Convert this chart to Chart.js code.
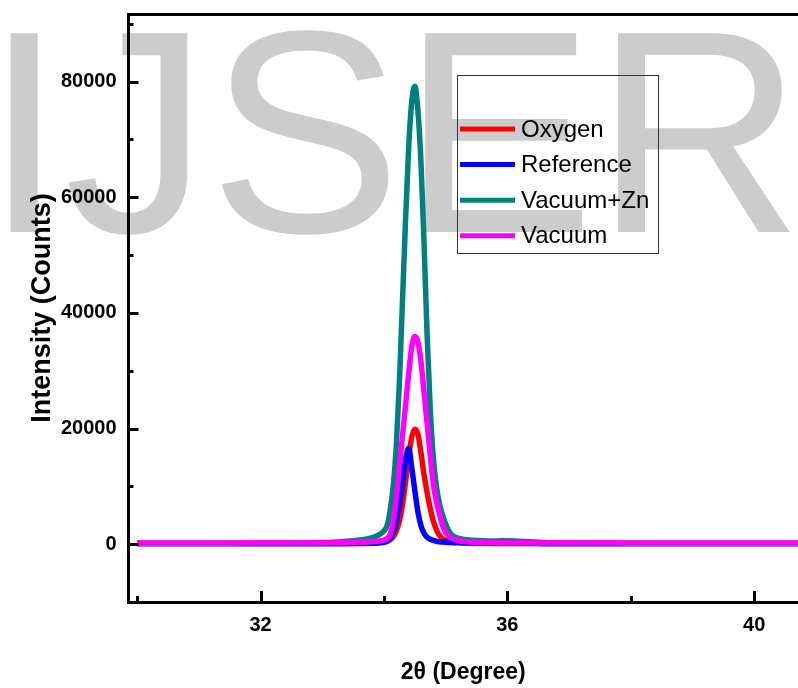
<!DOCTYPE html>
<html>
<head>
<meta charset="utf-8">
<script src="https://cdn.jsdelivr.net/npm/chart.js@4.4.1/dist/chart.umd.min.js"></script>
<style>
html,body{margin:0;padding:0;background:#fff;}
#wrap{width:798px;height:688px;position:relative;}
canvas{display:block;}
</style>
</head>
<body>
<div id="wrap"><canvas id="c" width="798" height="688"></canvas></div>
<script>
// ---- data ----
const twoTheta = [30.0, 30.5, 31.0, 31.5, 32.0, 32.5, 33.0, 33.3, 33.6, 33.8, 33.9,
  34.0, 34.05, 34.1, 34.15, 34.2, 34.25, 34.3, 34.35, 34.4, 34.45, 34.5, 34.55, 34.6, 34.65, 34.7, 34.75, 34.8, 34.85, 34.9, 34.95,
  35.0, 35.05, 35.1, 35.2, 35.3, 35.45, 35.6, 35.8, 36.0, 36.2, 36.4, 36.7, 37.0, 37.5, 38.0, 38.5, 39.0, 39.5, 40.0, 40.5, 40.8];

const oxygen = [150, 150, 150, 150, 160, 170, 190, 200, 220, 250, 270,
  300, 450, 750, 1300, 2300, 4000, 6800, 10800, 15000, 18500, 19900, 19000, 15800, 12000, 8900, 6200, 4000, 2500, 1500, 950,
  700, 550, 450, 350, 300, 250, 230, 220, 220, 210, 200, 190, 180, 170, 160, 160, 150, 150, 150, 150, 150];

const reference = [60, 60, 60, 60, 60, 70, 80, 90, 110, 150, 200,
  350, 550, 1000, 2000, 4000, 6800, 10300, 14600, 16600, 13300, 9300, 5600, 3200, 1900, 1200, 850, 650, 500, 420, 360,
  320, 290, 270, 230, 200, 170, 150, 130, 120, 110, 100, 90, 80, 70, 60, 60, 60, 60, 60, 60, 60];

const vacuumZn = [150, 150, 150, 160, 170, 200, 280, 420, 720, 1100, 1500,
  2300, 3200, 5800, 10000, 17000, 28000, 42000, 56000, 68500, 76500, 79200, 75000, 66000, 52000, 36000, 23500, 15000, 10000, 7000, 5000,
  3500, 2300, 1600, 1050, 820, 680, 600, 570, 580, 520, 400, 260, 210, 180, 160, 150, 150, 150, 150, 150, 150];

const vacuum = [180, 180, 180, 180, 190, 200, 220, 260, 330, 420, 520,
  700, 1000, 1700, 3900, 7900, 13300, 18700, 24000, 29400, 34100, 35900, 35000, 31600, 26200, 20800, 15400, 10400, 7400, 5200, 3200,
  2000, 1400, 1000, 650, 450, 330, 280, 240, 220, 210, 200, 200, 190, 190, 180, 180, 180, 180, 180, 180, 180];

const seriesLabels = ['Oxygen', 'Reference', 'Vacuum+Zn', 'Vacuum'];
const xMajorTicks = [32, 36, 40];
const xMinorTicks = [30, 34, 38];
const yMajorTicks = [0, 20000, 40000, 60000, 80000];
const yMinorTicks = [10000, 30000, 50000, 70000, 90000];
const xTitle = '2\u03B8 (Degree)';
const yTitle = 'Intensity (Counts)';
const watermarkText = 'IJSER';

// ---- build chart ----
const FONT = '"Liberation Sans", Arial, Helvetica, sans-serif';
const toPoints = arr => twoTheta.map((x, i) => ({x: x, y: arr[i]}));
const colors = ['#ff0000', '#0000ff', '#008080', '#ff00ff'];
const drawOrder = [2, 1, 3, 0];
const seriesValues = [oxygen, reference, vacuumZn, vacuum];

const datasets = seriesLabels.map((lab, i) => ({
  label: lab,
  data: toPoints(seriesValues[i]),
  borderColor: colors[i],
  backgroundColor: colors[i],
  borderWidth: 5.5,
  pointRadius: 0,
  fill: false,
  cubicInterpolationMode: 'monotone',
  borderJoinStyle: 'round',
  order: drawOrder[i]
}));

const decor = {
  id: 'decor',
  beforeDraw(chart) {
    const ctx = chart.ctx;
    ctx.save();
    ctx.fillStyle = '#ffffff';
    ctx.fillRect(0, 0, chart.width, chart.height);
    ctx.font = '289px ' + FONT;
    ctx.fillStyle = '#cccccc';
    ctx.textAlign = 'left';
    ctx.textBaseline = 'alphabetic';
    ctx.fillText(watermarkText, -16, 232);
    ctx.restore();
  },
  afterDraw(chart) {
    const ctx = chart.ctx;
    const a = chart.chartArea;
    const xs = chart.scales.x, ys = chart.scales.y;
    ctx.save();
    ctx.strokeStyle = '#000';
    ctx.lineCap = 'butt';
    // top frame
    ctx.lineWidth = 3;
    ctx.beginPath();
    ctx.moveTo(a.left - 1.5, a.top + 0.5);
    ctx.lineTo(a.right, a.top + 0.5);
    ctx.stroke();
    // inward tick marks
    const seg = (x1, y1, x2, y2) => { ctx.beginPath(); ctx.moveTo(x1, y1); ctx.lineTo(x2, y2); ctx.stroke(); };
    ctx.lineWidth = 3;
    xMajorTicks.forEach(v => { const p = Math.round(xs.getPixelForValue(v)) + 0.5; seg(p, a.bottom, p, a.bottom - 11); });
    xMinorTicks.forEach(v => { const p = Math.round(xs.getPixelForValue(v)) + 0.5; seg(p, a.bottom, p, a.bottom - 6); });
    yMajorTicks.forEach(v => { const p = Math.round(ys.getPixelForValue(v)) + 0.5; seg(a.left, p, a.left + 10, p); });
    yMinorTicks.forEach(v => { const p = Math.round(ys.getPixelForValue(v)) + 0.5; seg(a.left, p, a.left + 5, p); });

    // legend box
    const lx = 457, ly = 75, lw = 201, lh = 178;
    ctx.lineWidth = 1;
    ctx.strokeStyle = '#333';
    ctx.strokeRect(lx + 0.5, ly + 0.5, lw, lh);
    ctx.font = '24px ' + FONT;
    ctx.textAlign = 'left';
    ctx.textBaseline = 'middle';
    chart.data.datasets.forEach((ds, i) => {
      const ry = 129 + i * 35.6;
      ctx.strokeStyle = ds.borderColor;
      ctx.lineWidth = 5;
      seg(460, ry, 515, ry);
      ctx.fillStyle = '#000';
      ctx.fillText(ds.label, 521, ry + 1);
    });
    ctx.restore();
  }
};

new Chart(document.getElementById('c'), {
  type: 'line',
  data: { datasets: datasets },
  options: {
    responsive: false,
    animation: false,
    devicePixelRatio: 1,
    layout: { padding: { top: 14, left: 0, right: 0, bottom: 0 } },
    plugins: { legend: { display: false }, tooltip: { enabled: false } },
    elements: { line: { tension: 0 } },
    scales: {
      x: {
        type: 'linear',
        min: 29.86,
        max: 40.71,
        afterBuildTicks: s => { s.ticks = xMajorTicks.map(v => ({value: v})); },
        afterFit: s => { s.height = 86; s.paddingLeft = 0; s.paddingRight = 0; },
        grid: { display: true, drawOnChartArea: false, drawTicks: false },
        border: { display: true, color: '#000', width: 3 },
        ticks: {
          padding: 11,
          color: '#000',
          font: { family: FONT, size: 20, weight: 'bold' },
          maxRotation: 0,
          callback: v => String(v)
        },
        title: {
          display: true,
          text: xTitle,
          color: '#000',
          font: { family: FONT, size: 23, weight: 'bold' },
          padding: { top: 0, bottom: 2 }
        }
      },
      y: {
        type: 'linear',
        min: -10000,
        max: 91700,
        afterBuildTicks: s => { s.ticks = yMajorTicks.map(v => ({value: v})); },
        afterFit: s => { s.width = 128.5; s.paddingTop = 0; s.paddingBottom = 0; },
        grid: { display: true, drawOnChartArea: false, drawTicks: false },
        border: { display: true, color: '#000', width: 3 },
        ticks: {
          padding: 12,
          color: '#000',
          font: { family: FONT, size: 20, weight: 'bold' },
          callback: v => String(v)
        },
        title: {
          display: true,
          text: yTitle,
          color: '#000',
          font: { family: FONT, size: 27, weight: 'bold' },
          padding: { top: 26, bottom: 0 }
        }
      }
    }
  },
  plugins: [decor]
});
</script>
</body>
</html>
